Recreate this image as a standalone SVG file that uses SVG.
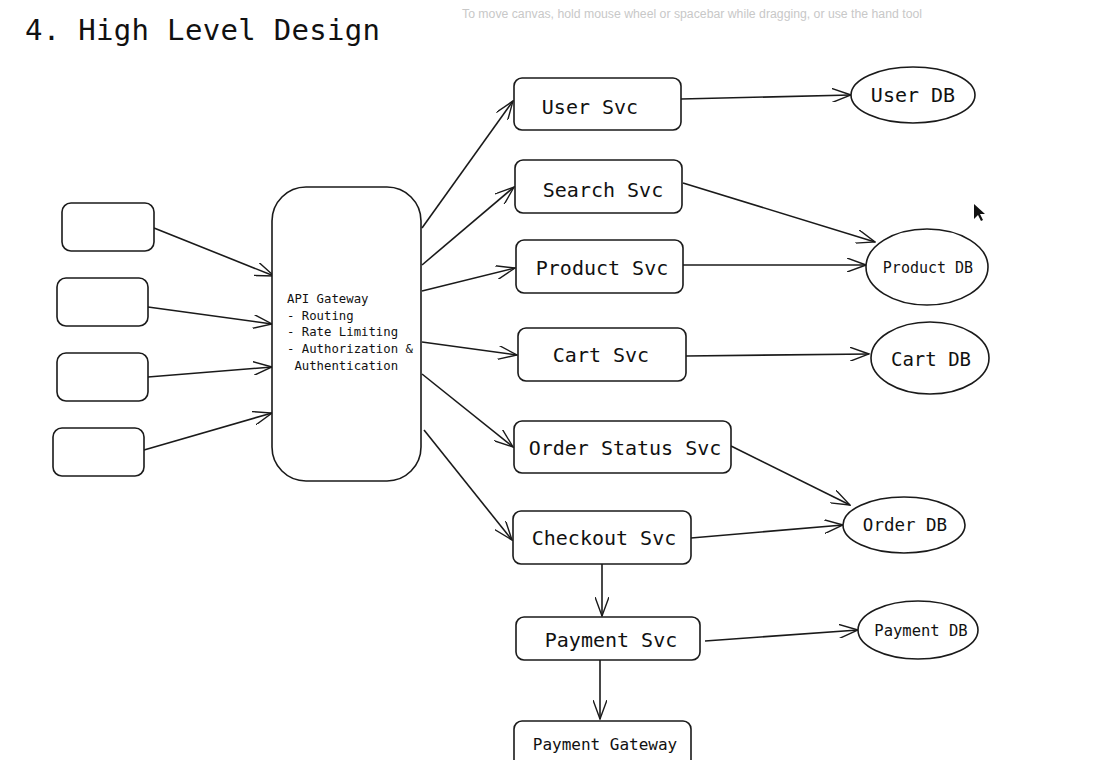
<svg xmlns="http://www.w3.org/2000/svg" width="1104" height="760" viewBox="0 0 1104 760">
<style>
.box{fill:#fff;stroke:#1a1a1a;stroke-width:1.6}
.t{font-family:"DejaVu Sans Mono","Liberation Mono",monospace;fill:#111;text-anchor:middle;dominant-baseline:central}
.gw{font-family:"DejaVu Sans Mono","Liberation Mono",monospace;fill:#111;font-size:12.3px}
.c{fill:none;stroke:#1a1a1a;stroke-width:1.6;marker-end:url(#arr)}
</style>
<defs>
<marker id="arr" viewBox="0 0 20 14" refX="19" refY="7" markerWidth="20" markerHeight="14" markerUnits="userSpaceOnUse" orient="auto">
<path d="M0,0 L19,7 L0,14" fill="none" stroke="#1a1a1a" stroke-width="1.4"/>
</marker>
</defs>
<rect width="1104" height="760" fill="#fff"/>
<text x="25" y="40" font-family="DejaVu Sans Mono,Liberation Mono,monospace" font-size="29" fill="#111" textLength="355">4. High Level Design</text>
<text x="462" y="18" font-family="Liberation Sans,Arial,sans-serif" font-size="12" fill="#c8c8c8" textLength="460" lengthAdjust="spacingAndGlyphs">To move canvas, hold mouse wheel or spacebar while dragging, or use the hand tool</text>

<g id="connectors">
<path class="c" d="M154,228 L274,276"/>
<path class="c" d="M148,307 L272,324"/>
<path class="c" d="M148,377 L272,367"/>
<path class="c" d="M144,450 L272,413"/>
<path class="c" d="M422,228 L513,101"/>
<path class="c" d="M422,265 L514,187"/>
<path class="c" d="M422,291 L515,268"/>
<path class="c" d="M422,342 L517,355"/>
<path class="c" d="M422,374 L513,447"/>
<path class="c" d="M424,430 L512,540"/>
<path class="c" d="M681,99 L851,95"/>
<path class="c" d="M683,183 L875,242"/>
<path class="c" d="M683,265 L866,265"/>
<path class="c" d="M686,356 L869,354"/>
<path class="c" d="M731,446 L850,505"/>
<path class="c" d="M691,538 L843,525"/>
<path class="c" d="M602,564 L602,616"/>
<path class="c" d="M705,641 L858,630"/>
<path class="c" d="M600,660 L600,719"/>
</g>

<g id="client1"><rect class="box" x="62" y="203" width="92" height="48" rx="9"/></g>
<g id="client2"><rect class="box" x="57" y="278" width="91" height="48" rx="9"/></g>
<g id="client3"><rect class="box" x="57" y="353" width="91" height="48" rx="9"/></g>
<g id="client4"><rect class="box" x="53" y="428" width="91" height="48" rx="9"/></g>

<g id="api-gateway">
<rect class="box" x="272" y="187" width="149" height="294" rx="34"/>
<text class="gw" x="287" y="303">API Gateway</text>
<text class="gw" x="287" y="320">- Routing</text>
<text class="gw" x="287" y="336">- Rate Limiting</text>
<text class="gw" x="287" y="353">- Authorization &amp;</text>
<text class="gw" x="287" y="370" xml:space="preserve"> Authentication</text>
</g>

<g id="user-svc"><rect class="box" x="514" y="78" width="167" height="52" rx="8"/><text class="t" x="590" y="107" font-size="20">User Svc</text></g>
<g id="search-svc"><rect class="box" x="515" y="160" width="167" height="53" rx="8"/><text class="t" x="603" y="190" font-size="20">Search Svc</text></g>
<g id="product-svc"><rect class="box" x="516" y="240" width="167" height="53" rx="8"/><text class="t" x="602" y="268" font-size="20">Product Svc</text></g>
<g id="cart-svc"><rect class="box" x="518" y="328" width="168" height="53" rx="8"/><text class="t" x="601" y="355" font-size="20">Cart Svc</text></g>
<g id="order-status-svc"><rect class="box" x="514" y="421" width="217" height="52" rx="8"/><text class="t" x="625" y="448" font-size="20">Order Status Svc</text></g>
<g id="checkout-svc"><rect class="box" x="513" y="511" width="178" height="53" rx="8"/><text class="t" x="604" y="538" font-size="20">Checkout Svc</text></g>
<g id="payment-svc"><rect class="box" x="516" y="617" width="184" height="43" rx="8"/><text class="t" x="611" y="640" font-size="20">Payment Svc</text></g>
<g id="payment-gateway"><rect class="box" x="514" y="721" width="177" height="52" rx="8"/><text class="t" x="605" y="744" font-size="16">Payment Gateway</text></g>

<g id="user-db"><ellipse class="box" cx="913" cy="95" rx="62" ry="28"/><text class="t" x="913" y="95" font-size="20">User DB</text></g>
<g id="product-db"><ellipse class="box" cx="927" cy="267" rx="61" ry="38"/><text class="t" x="928" y="268" font-size="15">Product DB</text></g>
<g id="cart-db"><ellipse class="box" cx="930" cy="358" rx="59" ry="36"/><text class="t" x="931" y="359" font-size="19">Cart DB</text></g>
<g id="order-db"><ellipse class="box" cx="904" cy="525" rx="61" ry="28"/><text class="t" x="905" y="525" font-size="17.5">Order DB</text></g>
<g id="payment-db"><ellipse class="box" cx="918" cy="630" rx="60" ry="29"/><text class="t" x="921" y="631" font-size="15.5">Payment DB</text></g>

<path d="M974,204 L974,219 L978,215 L981,221 L983,220 L980,214 L985,214 Z" fill="#111"/>
</svg>
